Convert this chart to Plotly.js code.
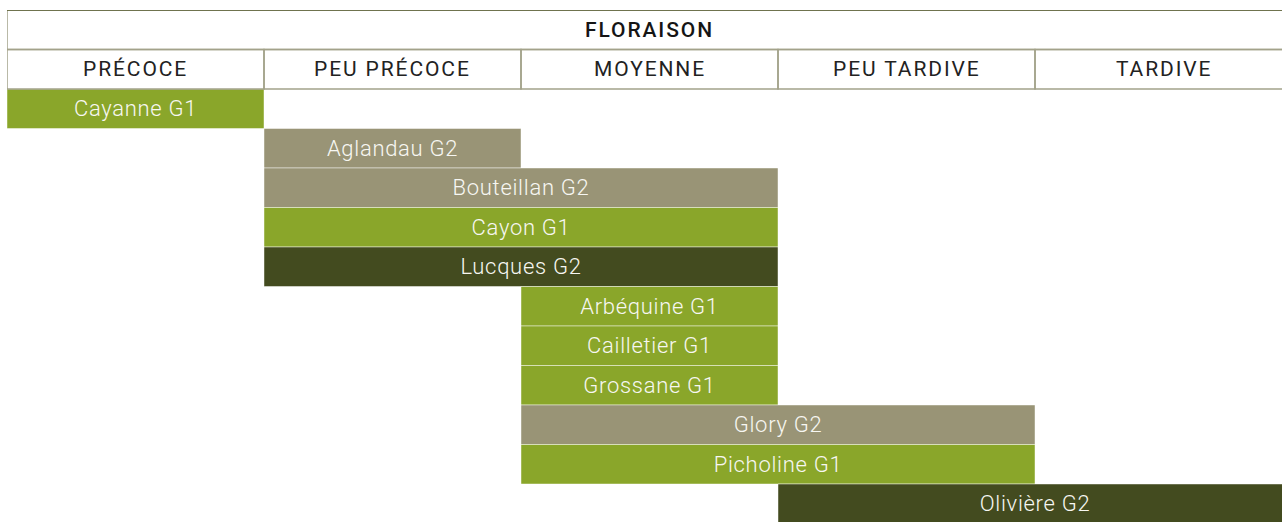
<!DOCTYPE html>
<html><head><meta charset="utf-8">
<script src="https://cdn.plot.ly/plotly-3.0.1.min.js"></script>
<style>
html,body{margin:0;padding:0;background:#fff;overflow:hidden}
#chart{width:1282px;height:522px}
.annotation-text{letter-spacing:1.9px}
.bartext{letter-spacing:0.7px}
</style>
</head><body><div id="chart"></div>
<script>
const title = 'FLORAISON';
const categories = ['PRÉCOCE','PEU PRÉCOCE','MOYENNE','PEU TARDIVE','TARDIVE'];
const varieties = ['Cayanne G1','Aglandau G2','Bouteillan G2','Cayon G1','Lucques G2','Arbéquine G1','Cailletier G1','Grossane G1','Glory G2','Picholine G1','Olivière G2'];
const startCat = [0,1,1,1,1,2,2,2,2,2,3];
const endCat   = [1,2,3,3,3,3,3,3,4,4,5];

const GREEN = '#8aa62a', GREY = '#999476', DARK = '#434b1f';
const barColors = [GREEN,GREY,GREY,GREEN,DARK,GREEN,GREEN,GREEN,GREY,GREEN,DARK];

const headerRows = 2;
const rowsY = varieties.map((v,i)=> headerRows + i + 0.5);

const trace = {
  type:'bar', orientation:'h',
  y: rowsY,
  x: varieties.map((v,i)=> endCat[i]-startCat[i]),
  base: startCat,
  width: 1,
  text: varieties,
  textposition:'inside',
  insidetextanchor:'middle',
  constraintext:'none',
  textfont:{family:'Roboto', size:22, color:'#f7f7f2', weight:300},
  marker:{color:barColors, line:{color:'rgba(255,255,255,0.45)', width:1}},
  hoverinfo:'skip', cliponaxis:true
};

const LINE = '#a3a28a', TOPLINE = '#575c30';
const shapes = [];
const n = categories.length;
shapes.push({type:'rect', xref:'x', yref:'y', x0:0, x1:n, y0:0, y1:1, line:{color:LINE, width:1.5}, fillcolor:'rgba(0,0,0,0)', layer:'above'});
categories.forEach((c,i)=>{
  shapes.push({type:'rect', xref:'x', yref:'y', x0:i, x1:i+1, y0:1, y1:2, line:{color:LINE, width:1.5}, fillcolor:'rgba(0,0,0,0)', layer:'above'});
});
shapes.push({type:'line', xref:'x', yref:'y', x0:0, x1:n, y0:0, y1:0, line:{color:TOPLINE, width:1.5}, layer:'above'});

const annotations = [{x:n/2, y:0.5, xref:'x', yref:'y', text:title, showarrow:false,
  font:{family:'Roboto', size:21, color:'#151515', weight:500}}];
categories.forEach((c,i)=>{
  annotations.push({x:i+0.5, y:1.5, xref:'x', yref:'y', text:c, showarrow:false,
    font:{family:'Roboto', size:21, color:'#222', weight:400}});
});

const pxPerCat = 257, leftPx = 7, W = 1282, H = 522, topPx = 10, rowPx = 39.5;
const layout = {
  width:W, height:H,
  margin:{l:leftPx, r:0, t:topPx, b:0, pad:0},
  paper_bgcolor:'#fff', plot_bgcolor:'#fff',
  showlegend:false, bargap:0,
  xaxis:{range:[0,(W-leftPx)/pxPerCat], showgrid:false, zeroline:false, showticklabels:false, showline:false, fixedrange:true},
  yaxis:{range:[(H-topPx)/rowPx, 0], showgrid:false, zeroline:false, showticklabels:false, showline:false, fixedrange:true},
  shapes:shapes, annotations:annotations
};
Plotly.newPlot('chart',[trace],layout,{displayModeBar:false, staticPlot:true});
</script></body></html>
